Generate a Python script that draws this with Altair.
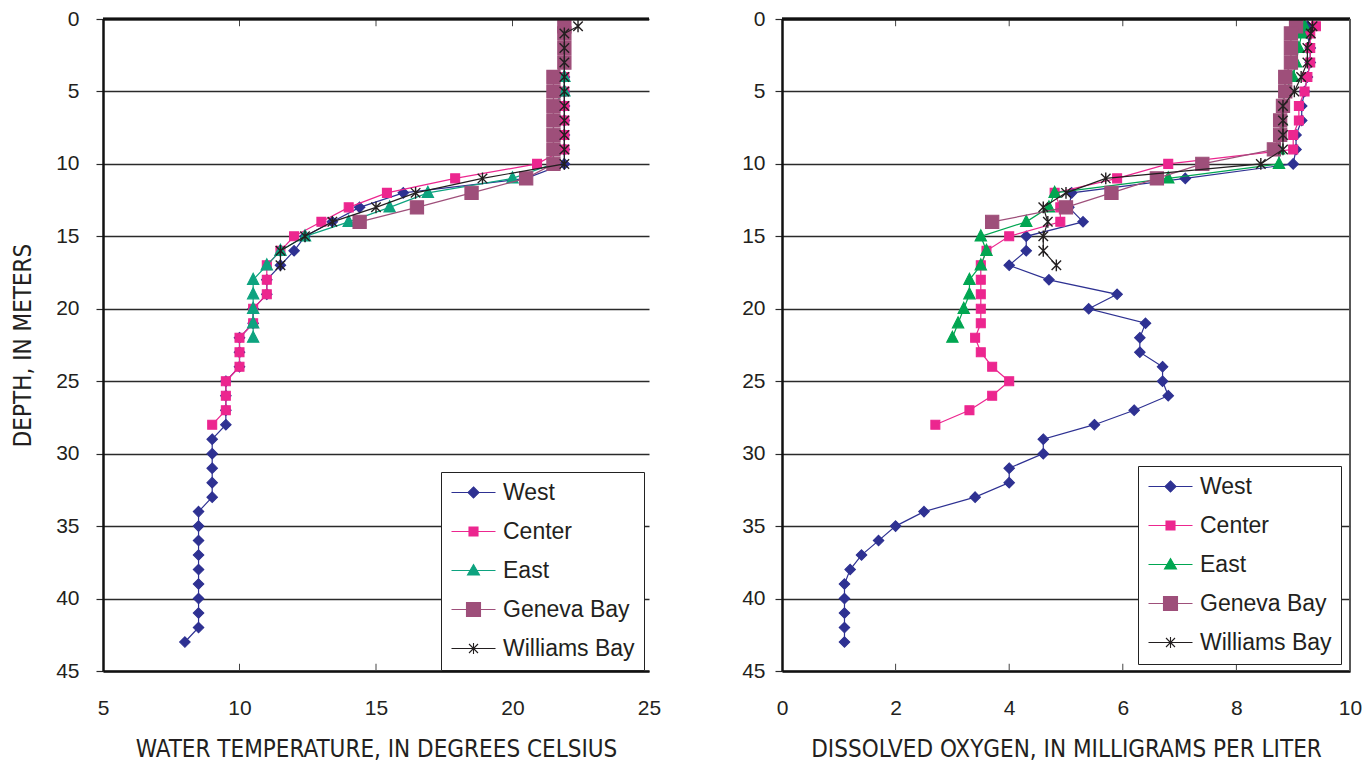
import altair as alt
import pandas as pd

SITES = ["West", "Center", "East", "Geneva Bay", "Williams Bay"]

# ---------------- Water temperature (deg C) vs depth (m) ----------------
T_DEPTH_WEST = [0.5, 1, 2, 3, 4, 5, 6, 7, 8, 9, 10, 11, 12, 13, 14, 15, 16, 17, 18, 19, 20, 21,
                22, 23, 24, 25, 26, 27, 28, 29, 30, 31, 32, 33, 34, 35, 36, 37, 38, 39, 40, 41, 42, 43]
T_WEST = [21.9, 21.9, 21.9, 21.9, 21.9, 21.9, 21.9, 21.9, 21.9, 21.9, 21.9, 20.5, 16.0, 14.4, 13.4,
          12.4, 12.0, 11.5, 11.0, 11.0, 10.5, 10.5, 10.0, 10.0, 10.0, 9.5, 9.5, 9.5, 9.5, 9.0, 9.0,
          9.0, 9.0, 9.0, 8.5, 8.5, 8.5, 8.5, 8.5, 8.5, 8.5, 8.5, 8.5, 8.0]

T_DEPTH_CENTER = [0.5, 1, 2, 3, 4, 5, 6, 7, 8, 9, 10, 11, 12, 13, 14, 15, 16, 17, 18, 19, 20, 21,
                  22, 23, 24, 25, 26, 27, 28]
T_CENTER = [21.9, 21.9, 21.9, 21.9, 21.9, 21.9, 21.9, 21.9, 21.9, 21.9, 20.9, 17.9, 15.4, 14.0, 13.0,
            12.0, 11.5, 11.0, 11.0, 11.0, 10.5, 10.5, 10.0, 10.0, 10.0, 9.5, 9.5, 9.5, 9.0]

T_DEPTH_EAST = [0.5, 1, 2, 3, 4, 5, 6, 7, 8, 9, 10, 11, 12, 13, 14, 15, 16, 17, 18, 19, 20, 21, 22]
T_EAST = [21.9, 21.9, 21.9, 21.9, 21.9, 21.9, 21.5, 21.5, 21.5, 21.5, 21.5, 20.0, 16.9, 15.5, 14.0,
          12.4, 11.5, 11.0, 10.5, 10.5, 10.5, 10.5, 10.5]

T_DEPTH_GENEVA = [0.5, 1, 2, 3, 4, 5, 6, 7, 8, 9, 10, 11, 12, 13, 14]
T_GENEVA = [21.9, 21.9, 21.9, 21.9, 21.5, 21.5, 21.5, 21.5, 21.5, 21.5, 21.5, 20.5, 18.5, 16.5, 14.4]

T_DEPTH_WILLIAMS = [0.5, 1, 2, 3, 4, 5, 6, 7, 8, 9, 10, 11, 12, 13, 14, 15, 16, 17]
T_WILLIAMS = [22.4, 21.9, 21.9, 21.9, 21.9, 21.9, 21.9, 21.9, 21.9, 21.9, 21.9, 18.9, 16.45, 15.0,
              13.4, 12.4, 11.5, 11.5]

# ---------------- Dissolved oxygen (mg/L) vs depth (m) ----------------
O_DEPTH_WEST = [0.5, 1, 2, 3, 4, 5, 6, 7, 8, 9, 10, 11, 12, 13, 14, 15, 16, 17, 18, 19, 20, 21,
                22, 23, 24, 25, 26, 27, 28, 29, 30, 31, 32, 33, 34, 35, 36, 37, 38, 39, 40, 41, 42, 43]
O_WEST = [9.25, 9.25, 9.3, 9.3, 9.25, 9.2, 9.15, 9.15, 9.05, 9.05, 9.0, 7.1, 5.1, 5.05, 5.3, 4.3, 4.3,
          4.0, 4.7, 5.9, 5.4, 6.4, 6.3, 6.3, 6.7, 6.7, 6.8, 6.2, 5.5, 4.6, 4.6, 4.0, 4.0, 3.4, 2.5,
          2.0, 1.7, 1.4, 1.2, 1.1, 1.1, 1.1, 1.1, 1.1]

O_DEPTH_CENTER = [0.5, 1, 2, 3, 4, 5, 6, 7, 8, 9, 10, 11, 12, 13, 14, 15, 16, 17, 18, 19, 20, 21,
                  22, 23, 24, 25, 26, 27, 28]
O_CENTER = [9.4, 9.3, 9.3, 9.3, 9.25, 9.2, 9.1, 9.1, 9.0, 9.0, 6.8, 5.9, 4.8, 4.9, 4.9, 4.0, 3.6, 3.5,
            3.5, 3.5, 3.5, 3.5, 3.4, 3.5, 3.7, 4.0, 3.7, 3.3, 2.7]

O_DEPTH_EAST = [0.5, 1, 2, 3, 4, 5, 6, 7, 8, 9, 10, 11, 12, 13, 14, 15, 16, 17, 18, 19, 20, 21, 22]
O_EAST = [9.2, 9.15, 9.1, 9.05, 9.0, 8.85, 8.82, 8.8, 8.78, 8.75, 8.75, 6.8, 4.8, 4.7, 4.3, 3.5, 3.6,
          3.5, 3.3, 3.3, 3.2, 3.1, 3.0]

O_DEPTH_GENEVA = [0.5, 1, 2, 3, 4, 5, 6, 7, 8, 9, 10, 11, 12, 13, 14]
O_GENEVA = [9.05, 8.96, 8.96, 8.96, 8.86, 8.86, 8.82, 8.77, 8.77, 8.66, 7.4, 6.6, 5.8, 5.0, 3.7]

O_DEPTH_WILLIAMS = [0.5, 1, 2, 3, 4, 5, 6, 7, 8, 9, 10, 11, 12, 13, 14, 15, 16, 17]
O_WILLIAMS = [9.34, 9.31, 9.25, 9.25, 9.14, 9.02, 8.82, 8.82, 8.82, 8.82, 8.43, 5.7, 5.0, 4.6, 4.68,
              4.6, 4.6, 4.83]

DEPTH_TICKS = [0, 5, 10, 15, 20, 25, 30, 35, 40, 45]
TEMP_TICKS = [5, 10, 15, 20, 25]
TEMP_INNER_TICKS = [10, 15, 20]
DO_TICKS = [0, 2, 4, 6, 8, 10]
DO_INNER_TICKS = [2, 4, 6, 8]

# ---------------- styles ----------------
TEXT = "#231F20"
LABEL_FONT = "Liberation Sans, Arial, sans-serif"
TITLE_FONT = "Liberation Sans Narrow, DejaVu Sans Condensed, Liberation Sans, sans-serif"
COLORS_T = ["#2E3192", "#EC268F", "#0DA37F", "#9E4F7A", "#231F20"]
COLORS_O = ["#2E3192", "#EC268F", "#00A651", "#9E4F7A", "#231F20"]
MARKER_PATH = ["M0,-1L1,0L0,1L-1,0Z",
               "M-1,-1L1,-1L1,1L-1,1Z",
               "M0,-1.15L1,0.8L-1,0.8Z",
               "M-1,-1L1,-1L1,1L-1,1Z",
               "M-1,-1L1,1M-1,1L1,-1M0,-1.25L0,1.25"]
MARKER_SIZE = [110, 80, 130, 175, 90]
MARKER_STROKE = [1.1, 1.1, 1.1, 1.1, 1.4]
LINE = "M-2.2,0L2.2,0"
LEGEND_PATHS = [
    LINE + "M0,-0.55L0.55,0L0,0.55L-0.55,0Z",
    LINE + "M-0.45,-0.45L0.45,-0.45L0.45,0.45L-0.45,0.45Z",
    LINE + "M0,-0.6L0.6,0.45L-0.6,0.45Z",
    LINE + "M-0.7,-0.7L0.7,-0.7L0.7,0.7L-0.7,0.7Z",
    LINE + "M-0.45,-0.45L0.45,0.45M-0.45,0.45L0.45,-0.45M0,-0.55L0,0.55",
]


def build_frame(series):
    rows = []
    for site, depths, values in series:
        for d, v in zip(depths, values):
            rows.append({"site": site, "depth": d, "value": v})
    return pd.DataFrame(rows)


df_t = build_frame([
    ("West", T_DEPTH_WEST, T_WEST), ("Center", T_DEPTH_CENTER, T_CENTER),
    ("East", T_DEPTH_EAST, T_EAST), ("Geneva Bay", T_DEPTH_GENEVA, T_GENEVA),
    ("Williams Bay", T_DEPTH_WILLIAMS, T_WILLIAMS)])
df_o = build_frame([
    ("West", O_DEPTH_WEST, O_WEST), ("Center", O_DEPTH_CENTER, O_CENTER),
    ("East", O_DEPTH_EAST, O_EAST), ("Geneva Bay", O_DEPTH_GENEVA, O_GENEVA),
    ("Williams Bay", O_DEPTH_WILLIAMS, O_WILLIAMS)])


def panel(df, xdomain, xticks, inner_ticks, xtitle, colors, width, ytitle,
          ylabelpad, legend_xy, right_border):
    xscale = alt.Scale(domain=xdomain, nice=False, zero=False)
    xaxis = alt.Axis(values=xticks, title=xtitle, grid=False, ticks=False, labelFlush=False,
                     domainColor="#111", domainWidth=2.5, labelPadding=26,
                     titlePadding=19, labelFontSize=21, titleFontSize=24,
                     labelFont=LABEL_FONT, titleFont=TITLE_FONT,
                     labelColor=TEXT, titleColor=TEXT, titleFontWeight="normal")
    yaxis = dict(values=DEPTH_TICKS, grid=True, gridColor="#2a2a2a", gridWidth=1.4,
                 tickSize=7, tickColor="#2a2a2a", tickWidth=1.2, domainColor="#111",
                 domainWidth=2.5, labelPadding=ylabelpad, labelFontSize=21, labelFlush=False,
                 labelFont=LABEL_FONT, labelColor=TEXT)
    if ytitle:
        yaxis.update(title=ytitle, titleFontSize=24, titleFont=TITLE_FONT, titleColor=TEXT,
                     titleFontWeight="normal", titlePadding=20)
    else:
        yaxis.update(title=None)
    yaxis = alt.Axis(**yaxis)
    yscale = alt.Scale(domain=[0, 45], reverse=True, nice=False)

    x = alt.X("value:Q", scale=xscale, axis=xaxis)
    y = alt.Y("depth:Q", scale=yscale, axis=yaxis)

    def ydat(v):
        return alt.Y(datum=v, type="quantitative", scale=yscale, axis=yaxis)

    leg = alt.Legend(title=None, orient="none", legendX=legend_xy[0], legendY=legend_xy[1],
                     direction="vertical", padding=9, strokeColor="#222", fillColor="white",
                     labelFontSize=23, labelFont=LABEL_FONT, labelColor=TEXT,
                     rowPadding=15, symbolOffset=12, labelOffset=18, symbolSize=400,
                     symbolStrokeWidth=1.1, labelLimit=300)

    base = alt.Chart(df)
    series_layers = []
    for i, site in enumerate(SITES):
        sub = base.transform_filter(alt.datum.site == site)
        series_layers.append(
            sub.mark_line(strokeWidth=1.2, color=colors[i]).encode(x=x, y=y, order="depth:Q"))
        series_layers.append(
            sub.mark_point(filled=True, shape=MARKER_PATH[i], size=MARKER_SIZE[i],
                           fill=colors[i], stroke=colors[i], strokeWidth=MARKER_STROKE[i],
                           opacity=1).encode(x=x, y=y))

    legend_layer = base.mark_point(filled=True, strokeWidth=1.1, opacity=1).transform_filter(
        "false").encode(
        x=x, y=y,
        fill=alt.Fill("site:N", scale=alt.Scale(domain=SITES, range=colors), legend=leg),
        stroke=alt.Stroke("site:N", scale=alt.Scale(domain=SITES, range=colors), legend=leg),
        shape=alt.Shape("site:N", scale=alt.Scale(domain=SITES, range=LEGEND_PATHS), legend=leg),
        size=alt.value(400))

    tick_df = pd.DataFrame({"t": inner_ticks})
    xt = alt.X("t:Q", scale=xscale, axis=xaxis)
    top_ticks = alt.Chart(tick_df).mark_rule(color="#444", strokeWidth=1).encode(
        x=xt, y=ydat(0), y2=alt.Y2(datum=0.5))
    bottom_ticks = alt.Chart(tick_df).mark_rule(color="#444", strokeWidth=1).encode(
        x=xt, y=ydat(45), y2=alt.Y2(datum=44.5))
    top_border = alt.Chart(tick_df).mark_rule(color="#111", strokeWidth=2.5).encode(
        y=ydat(0))

    layers = series_layers + [legend_layer, top_ticks, bottom_ticks, top_border]
    if right_border:
        rb = alt.Chart(tick_df).mark_rule(color="#555", strokeWidth=1.2).encode(
            x=alt.X(datum=xdomain[1], type="quantitative", scale=xscale, axis=xaxis))
        layers.append(rb)
    return alt.layer(*layers).properties(width=width, height=652)


left = panel(df_t, [5, 25], TEMP_TICKS, TEMP_INNER_TICKS,
             "WATER TEMPERATURE, IN DEGREES CELSIUS", COLORS_T, 546,
             "DEPTH, IN METERS", 17, (338, 453), False)
right = panel(df_o, [0, 10], DO_TICKS, DO_INNER_TICKS,
              "DISSOLVED OXYGEN, IN MILLIGRAMS PER LITER", COLORS_O, 568,
              None, 10, (356, 447), True)

chart = alt.hconcat(left, right, spacing=80).resolve_scale(
    fill="independent", stroke="independent", shape="independent",
    x="independent", y="independent").configure_view(stroke=None).properties(
    padding={"left": 3, "top": 0, "right": 0, "bottom": 0})

chart.save("out.html", embed_options={"renderer": "svg", "actions": False})
